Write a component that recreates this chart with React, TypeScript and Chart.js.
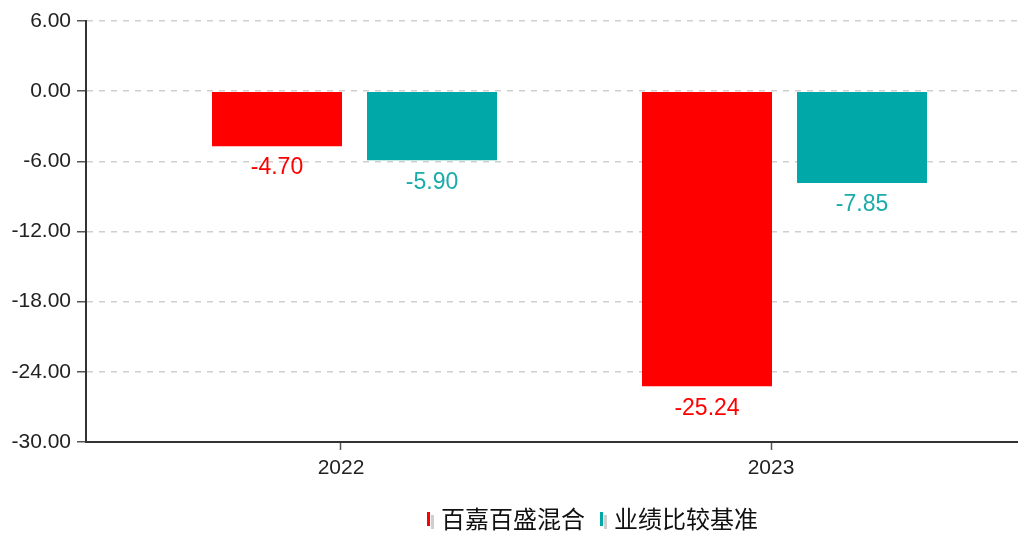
import React, { useEffect, useRef } from "react";
import { Chart, registerables } from "chart.js";

Chart.register(...registerables);

const categories = [2022, 2023];
const seriesNames = ["百嘉百盛混合", "业绩比较基准"];
const fundValues = [-4.7, -25.24];
const benchmarkValues = [-5.9, -7.85];
const yTickMin = -30;
const yTickMax = 6;
const yTickStep = 6;

const barColors = ["#FF0000", "#00A8A8"];
const labelColors = ["#FF0000", "#1AABAB"];

const dataLabelPlugin = {
  id: "dataLabels",
  afterDatasetsDraw(chart: any) {
    const ctx = chart.ctx;
    ctx.save();
    ctx.font = "23px 'Liberation Sans', Arial, sans-serif";
    ctx.textAlign = "center";
    ctx.textBaseline = "middle";
    chart.data.datasets.forEach((ds: any, di: number) => {
      const meta = chart.getDatasetMeta(di);
      meta.data.forEach((bar: any, i: number) => {
        const v = ds.data[i].y;
        ctx.fillStyle = labelColors[di];
        const y = v < 0 ? bar.y + 22 : bar.y - 22;
        ctx.fillText(v.toFixed(2), bar.x, y);
      });
    });
    ctx.restore();
  },
};

const legendPlugin = {
  id: "customLegend",
  afterDraw(chart: any) {
    const ctx = chart.ctx;
    ctx.save();
    ctx.font = "24px 'Noto Sans CJK SC', sans-serif";
    ctx.textBaseline = "middle";
    ctx.textAlign = "left";
    const cy = 519;
    let x = 427;
    seriesNames.forEach((name, i) => {
      ctx.fillStyle = "#cfcfcf";
      ctx.fillRect(x + 4, cy - 4, 3, 14);
      ctx.fillStyle = barColors[i];
      ctx.fillRect(x, cy - 7, 3, 14);
      ctx.fillStyle = "#111";
      ctx.fillText(name, x + 14, cy);
      x += 14 + ctx.measureText(name).width + 15;
    });
    ctx.restore();
  },
};

export default function App() {
  const ref = useRef<HTMLCanvasElement>(null);
  useEffect(() => {
    if (!ref.current) return;
    const tickShift = -13.5 / 430;
    const chart = new Chart(ref.current, {
      type: "bar",
      data: {
        datasets: [
          {
            label: seriesNames[0],
            data: categories.map((c, i) => ({ x: c, y: fundValues[i] })),
            backgroundColor: barColors[0],
            categoryPercentage: 310 / 430,
            barPercentage: 130 / 155,
          },
          {
            label: seriesNames[1],
            data: categories.map((c, i) => ({ x: c, y: benchmarkValues[i] })),
            backgroundColor: barColors[1],
            categoryPercentage: 310 / 430,
            barPercentage: 130 / 155,
          },
        ],
      },
      options: {
        responsive: false,
        animation: false,
        layout: { padding: { top: 21, right: 0, bottom: 0, left: 0 } },
        plugins: { legend: { display: false }, tooltip: { enabled: false } },
        scales: {
          x: {
            type: "linear",
            offset: false,
            min: 2021.3756,
            max: 2023.543,
            afterBuildTicks: (s: any) => {
              s.ticks = categories.map((c) => ({ value: c + tickShift }));
            },
            afterFit: (s: any) => {
              s.height = 91;
            },
            grid: {
              offset: false,
              drawOnChartArea: false,
              drawTicks: true,
              tickLength: 8,
              tickColor: "#555",
              tickWidth: 1.5,
            },
            border: { display: true, color: "#333", width: 2 },
            ticks: {
              padding: 6,
              color: "#222",
              font: { family: "'Liberation Sans', Arial, sans-serif", size: 21 },
              callback: (v: any) => String(Math.round(Number(v))),
            },
          },
          y: {
            min: yTickMin,
            max: yTickMax,
            afterFit: (s: any) => {
              s.width = 86;
            },
            grid: {
              color: "#cfcfcf",
              lineWidth: 1.5,
              tickLength: 9,
              tickColor: "#555",
              tickWidth: 1.5,
            },
            border: { display: true, color: "#333", width: 2, dash: [6, 6] },
            ticks: {
              stepSize: yTickStep,
              padding: 6,
              color: "#222",
              font: { family: "'Liberation Sans', Arial, sans-serif", size: 21 },
              callback: (v: any) => Number(v).toFixed(2),
            },
          },
        },
      },
      plugins: [dataLabelPlugin, legendPlugin],
    } as any);
    return () => chart.destroy();
  }, []);
  return (
    <div style={{ position: "absolute", left: 0, top: 0, width: 1018, height: 533, background: "#fff" }}>
      <canvas ref={ref} width={1018} height={533} style={{ display: "block" }} />
    </div>
  );
}
